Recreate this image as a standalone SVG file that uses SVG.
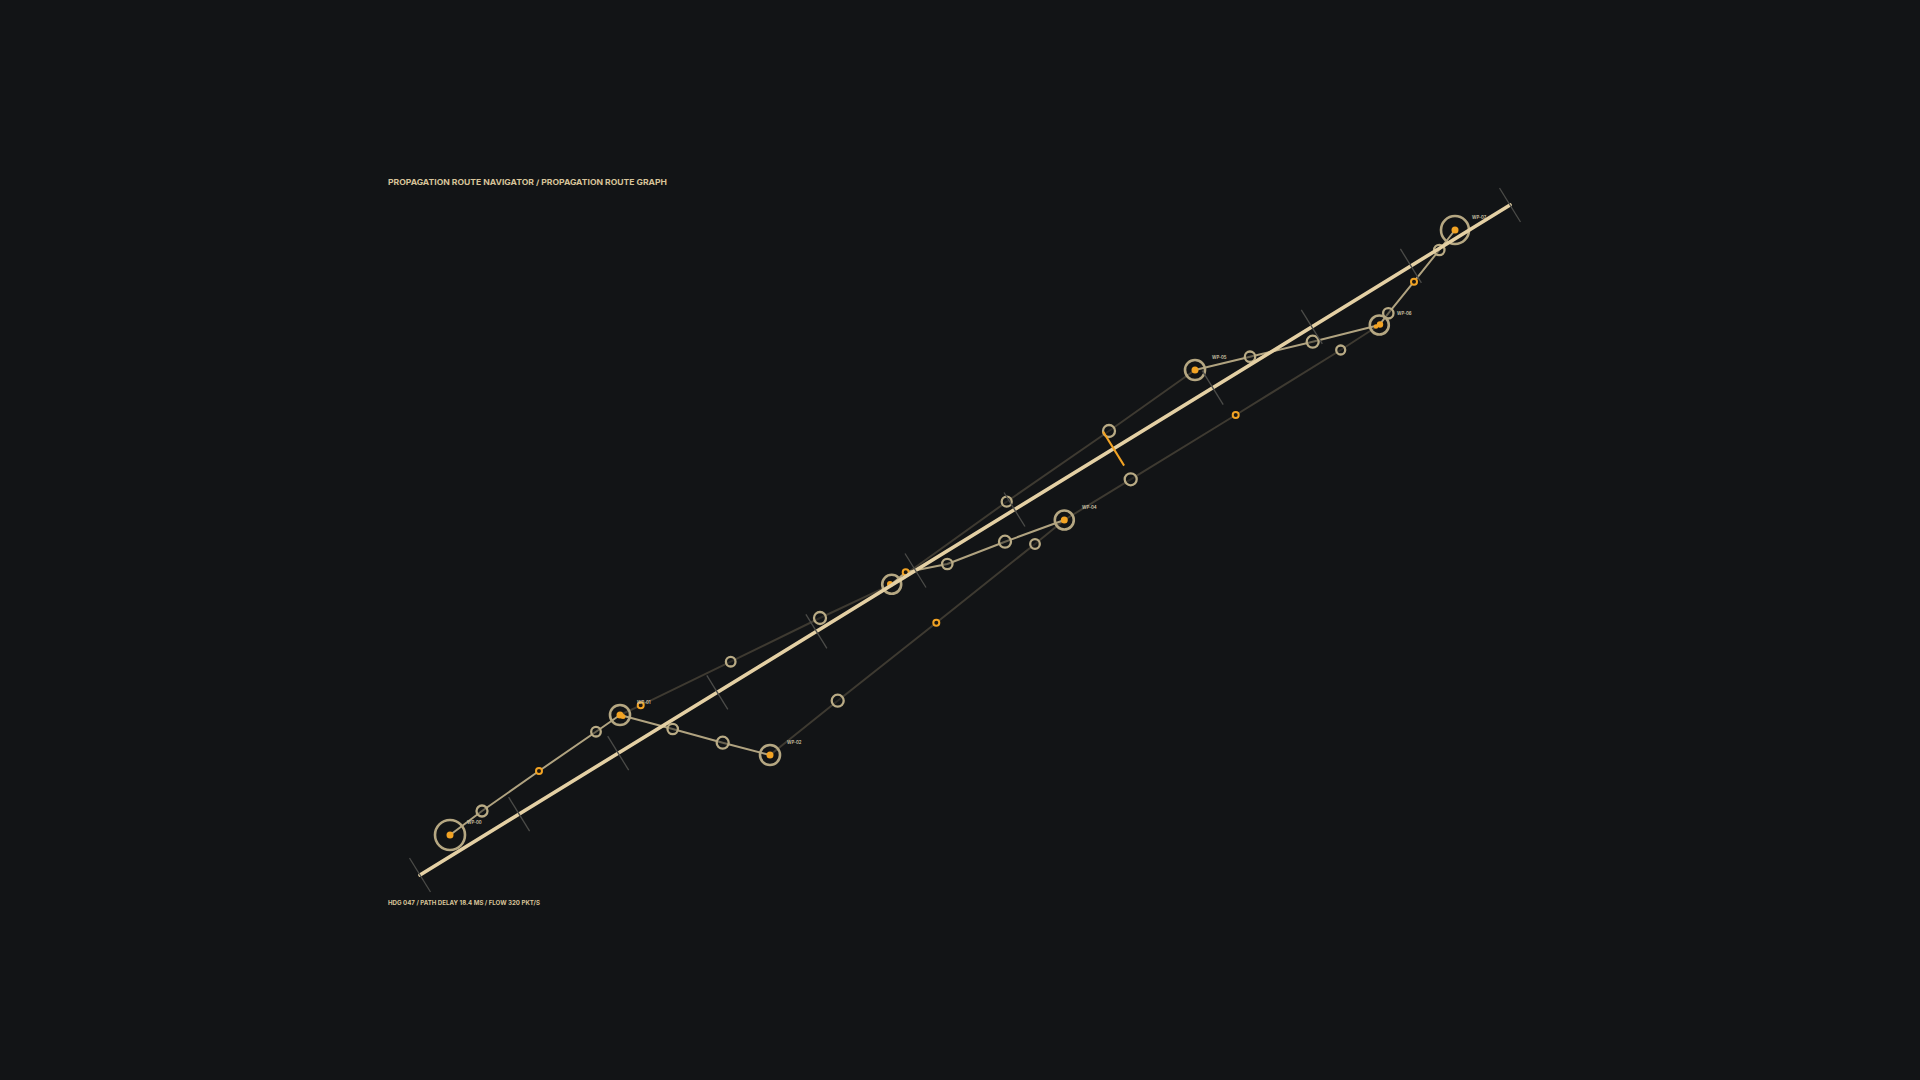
<svg xmlns="http://www.w3.org/2000/svg" width="1920" height="1080" viewBox="0 0 1920 1080">
<defs>
<style>
.bg{fill:#121416}
.title{font-family:Inter,"Liberation Sans",sans-serif;font-weight:700;fill:#d8c49a}
.lbl{font-family:Inter,"Liberation Sans",sans-serif;font-weight:600;font-size:4.3px;fill:#d3c8ac}
.dim{fill:none;stroke:#3e3a31;stroke-width:2;stroke-linejoin:round}
.bright{fill:none;stroke:#c2b38c;stroke-width:2;stroke-opacity:0.9;stroke-linejoin:round}
.ring{fill:#121416;fill-opacity:0.45;stroke:#b9ab85;stroke-width:2.3}
.wp{fill:none;stroke:#b5a782;stroke-width:2.6}
.wpdot{fill:#f2a324}
.org{fill:#1a1712;stroke:#f2a324;stroke-width:2}
.main{stroke:#e4d0a4;stroke-width:3.6;stroke-linecap:round}
.tick{stroke:#4b4b48;stroke-width:1.3}
.otick{stroke:#f2a324;stroke-width:2}
</style>
</defs>
<rect class="bg" x="0" y="0" width="1920" height="1080"/>

<text class="title" x="388" y="184.5" font-size="7.4" textLength="279" lengthAdjust="spacingAndGlyphs">PROPAGATION ROUTE NAVIGATOR / PROPAGATION ROUTE GRAPH</text>
<text class="title" x="388" y="905" font-size="6.3" textLength="152" lengthAdjust="spacingAndGlyphs">HDG 047 / PATH DELAY 18.4 MS / FLOW 320 PKT/S</text>

<g id="connectors">
<polyline class="dim" points="620,715 640.7,705.3 730.7,661.7 820,618 891.7,584.3"/>
<polyline class="dim" points="770,755 837.7,700.7 936.3,622.7 1035,544 1064.3,520"/>
<polyline class="dim" points="891.7,584.3 1006.7,501.7 1109,431 1195,370"/>
<polyline class="dim" points="1064.3,520 1130.7,479.3 1235.7,415 1340.7,350 1379.3,325"/>
<polyline class="bright" points="450,835 482,811 539,771 596,731.7 620,715"/>
<polyline class="bright" points="620,715 672.7,729 722.7,742.7 770,755"/>
<polyline class="bright" points="891.7,584.3 905.7,572.3 947.3,564 1005,541.7 1064.3,520"/>
<polyline class="bright" points="1195,370 1250,356.7 1312.7,341.7 1379.3,325"/>
<polyline class="bright" points="1379.3,325 1388.3,313.3 1414,281.7 1439.3,250 1455,230"/>
</g>

<g id="intermediate-nodes">
<g id="n01a"><circle class="ring" cx="482" cy="811" r="5.5"/></g>
<g id="n01b"><circle class="org" cx="539" cy="771" r="3"/></g>
<g id="n01c"><circle class="ring" cx="596" cy="731.7" r="4.8"/></g>
<g id="n12a"><circle class="ring" cx="672.7" cy="729" r="5.2"/></g>
<g id="n12b"><circle class="ring" cx="722.7" cy="742.7" r="6"/></g>
<g id="n13a"><circle class="org" cx="640.7" cy="705.3" r="3"/></g>
<g id="n13b"><circle class="ring" cx="730.7" cy="661.7" r="4.8"/></g>
<g id="n13c"><circle class="ring" cx="820" cy="618" r="6"/></g>
<g id="n24a"><circle class="ring" cx="837.7" cy="700.7" r="6"/></g>
<g id="n24b"><circle class="org" cx="936.3" cy="622.7" r="3"/></g>
<g id="n24c"><circle class="ring" cx="1035" cy="544" r="4.8"/></g>
<g id="n34a"><circle class="org" cx="905.7" cy="572.3" r="3"/></g>
<g id="n34b"><circle class="ring" cx="947.3" cy="564" r="5.2"/></g>
<g id="n34c"><circle class="ring" cx="1005" cy="541.7" r="6"/></g>
<g id="n35a"><circle class="ring" cx="1006.7" cy="501.7" r="5"/></g>
<g id="n35b"><circle class="ring" cx="1109" cy="431" r="6"/></g>
<g id="n46a"><circle class="ring" cx="1130.7" cy="479.3" r="6"/></g>
<g id="n46b"><circle class="org" cx="1235.7" cy="415" r="3"/></g>
<g id="n46c"><circle class="ring" cx="1340.7" cy="350" r="4.5"/></g>
<g id="n56a"><circle class="ring" cx="1250" cy="356.7" r="5.2"/></g>
<g id="n56b"><circle class="ring" cx="1312.7" cy="341.7" r="6"/></g>
<g id="n67a"><circle class="ring" cx="1388.3" cy="313.3" r="5.2"/></g>
<g id="n67b"><circle class="org" cx="1414" cy="281.7" r="3"/></g>
<g id="n67c"><circle class="ring" cx="1439.3" cy="250" r="5.2"/></g>
</g>

<g id="WP-00"><circle class="wp" cx="450" cy="835" r="15"/><circle class="wpdot" cx="450" cy="835" r="3.5"/><text class="lbl" x="467" y="824">WP-00</text></g>
<g id="WP-01"><circle class="wp" cx="620" cy="715" r="10"/><circle class="wpdot" cx="620" cy="715" r="3.5"/><circle class="wpdot" cx="623" cy="716.5" r="2.5"/><text class="lbl" x="637" y="704">WP-01</text></g>
<g id="WP-02"><circle class="wp" cx="770" cy="755" r="10"/><circle class="wpdot" cx="770" cy="755" r="3.5"/><text class="lbl" x="787" y="744">WP-02</text></g>
<g id="WP-03"><circle class="wp" cx="891.7" cy="584.3" r="9.5"/><circle class="wpdot" cx="890" cy="584" r="3"/></g>
<g id="WP-04"><circle class="wp" cx="1064.3" cy="520" r="9.5"/><circle class="wpdot" cx="1064.3" cy="520" r="3.5"/><text class="lbl" x="1082" y="509">WP-04</text></g>
<g id="WP-05"><circle class="wp" cx="1195" cy="370" r="10"/><circle class="wpdot" cx="1195" cy="370" r="3.5"/><text class="lbl" x="1212" y="359">WP-05</text></g>
<g id="WP-06"><circle class="wp" cx="1379.3" cy="325" r="9.5"/><circle class="wpdot" cx="1380" cy="324.5" r="3.2"/><circle class="wpdot" cx="1376" cy="326.5" r="2.3"/><text class="lbl" x="1397" y="314.5">WP-06</text></g>
<g id="WP-07"><circle class="wp" cx="1455" cy="230" r="14"/><circle class="wpdot" cx="1455" cy="230" r="3.5"/><text class="lbl" x="1472" y="219">WP-07</text></g>

<g id="axis">
<line class="main" x1="420" y1="875" x2="1510" y2="205"/>
<line class="tick" x1="409.5" y1="858" x2="430.5" y2="892"/>
<line class="tick" x1="508.6" y1="797.1" x2="529.6" y2="831.1"/>
<line class="tick" x1="607.7" y1="736.2" x2="628.7" y2="770.2"/>
<line class="tick" x1="706.8" y1="675.3" x2="727.8" y2="709.3"/>
<line class="tick" x1="805.9" y1="614.4" x2="826.9" y2="648.4"/>
<line class="tick" x1="905" y1="553.5" x2="926" y2="587.5"/>
<line class="tick" x1="1004" y1="492.5" x2="1025" y2="526.5"/>
<line class="otick" x1="1103.1" y1="431.6" x2="1124.1" y2="465.6"/>
<line class="tick" x1="1202.2" y1="370.7" x2="1223.2" y2="404.7"/>
<line class="tick" x1="1301.3" y1="309.8" x2="1322.3" y2="343.8"/>
<line class="tick" x1="1400.4" y1="248.9" x2="1421.4" y2="282.9"/>
<line class="tick" x1="1499.5" y1="188" x2="1520.5" y2="222"/>
</g>
</svg>
